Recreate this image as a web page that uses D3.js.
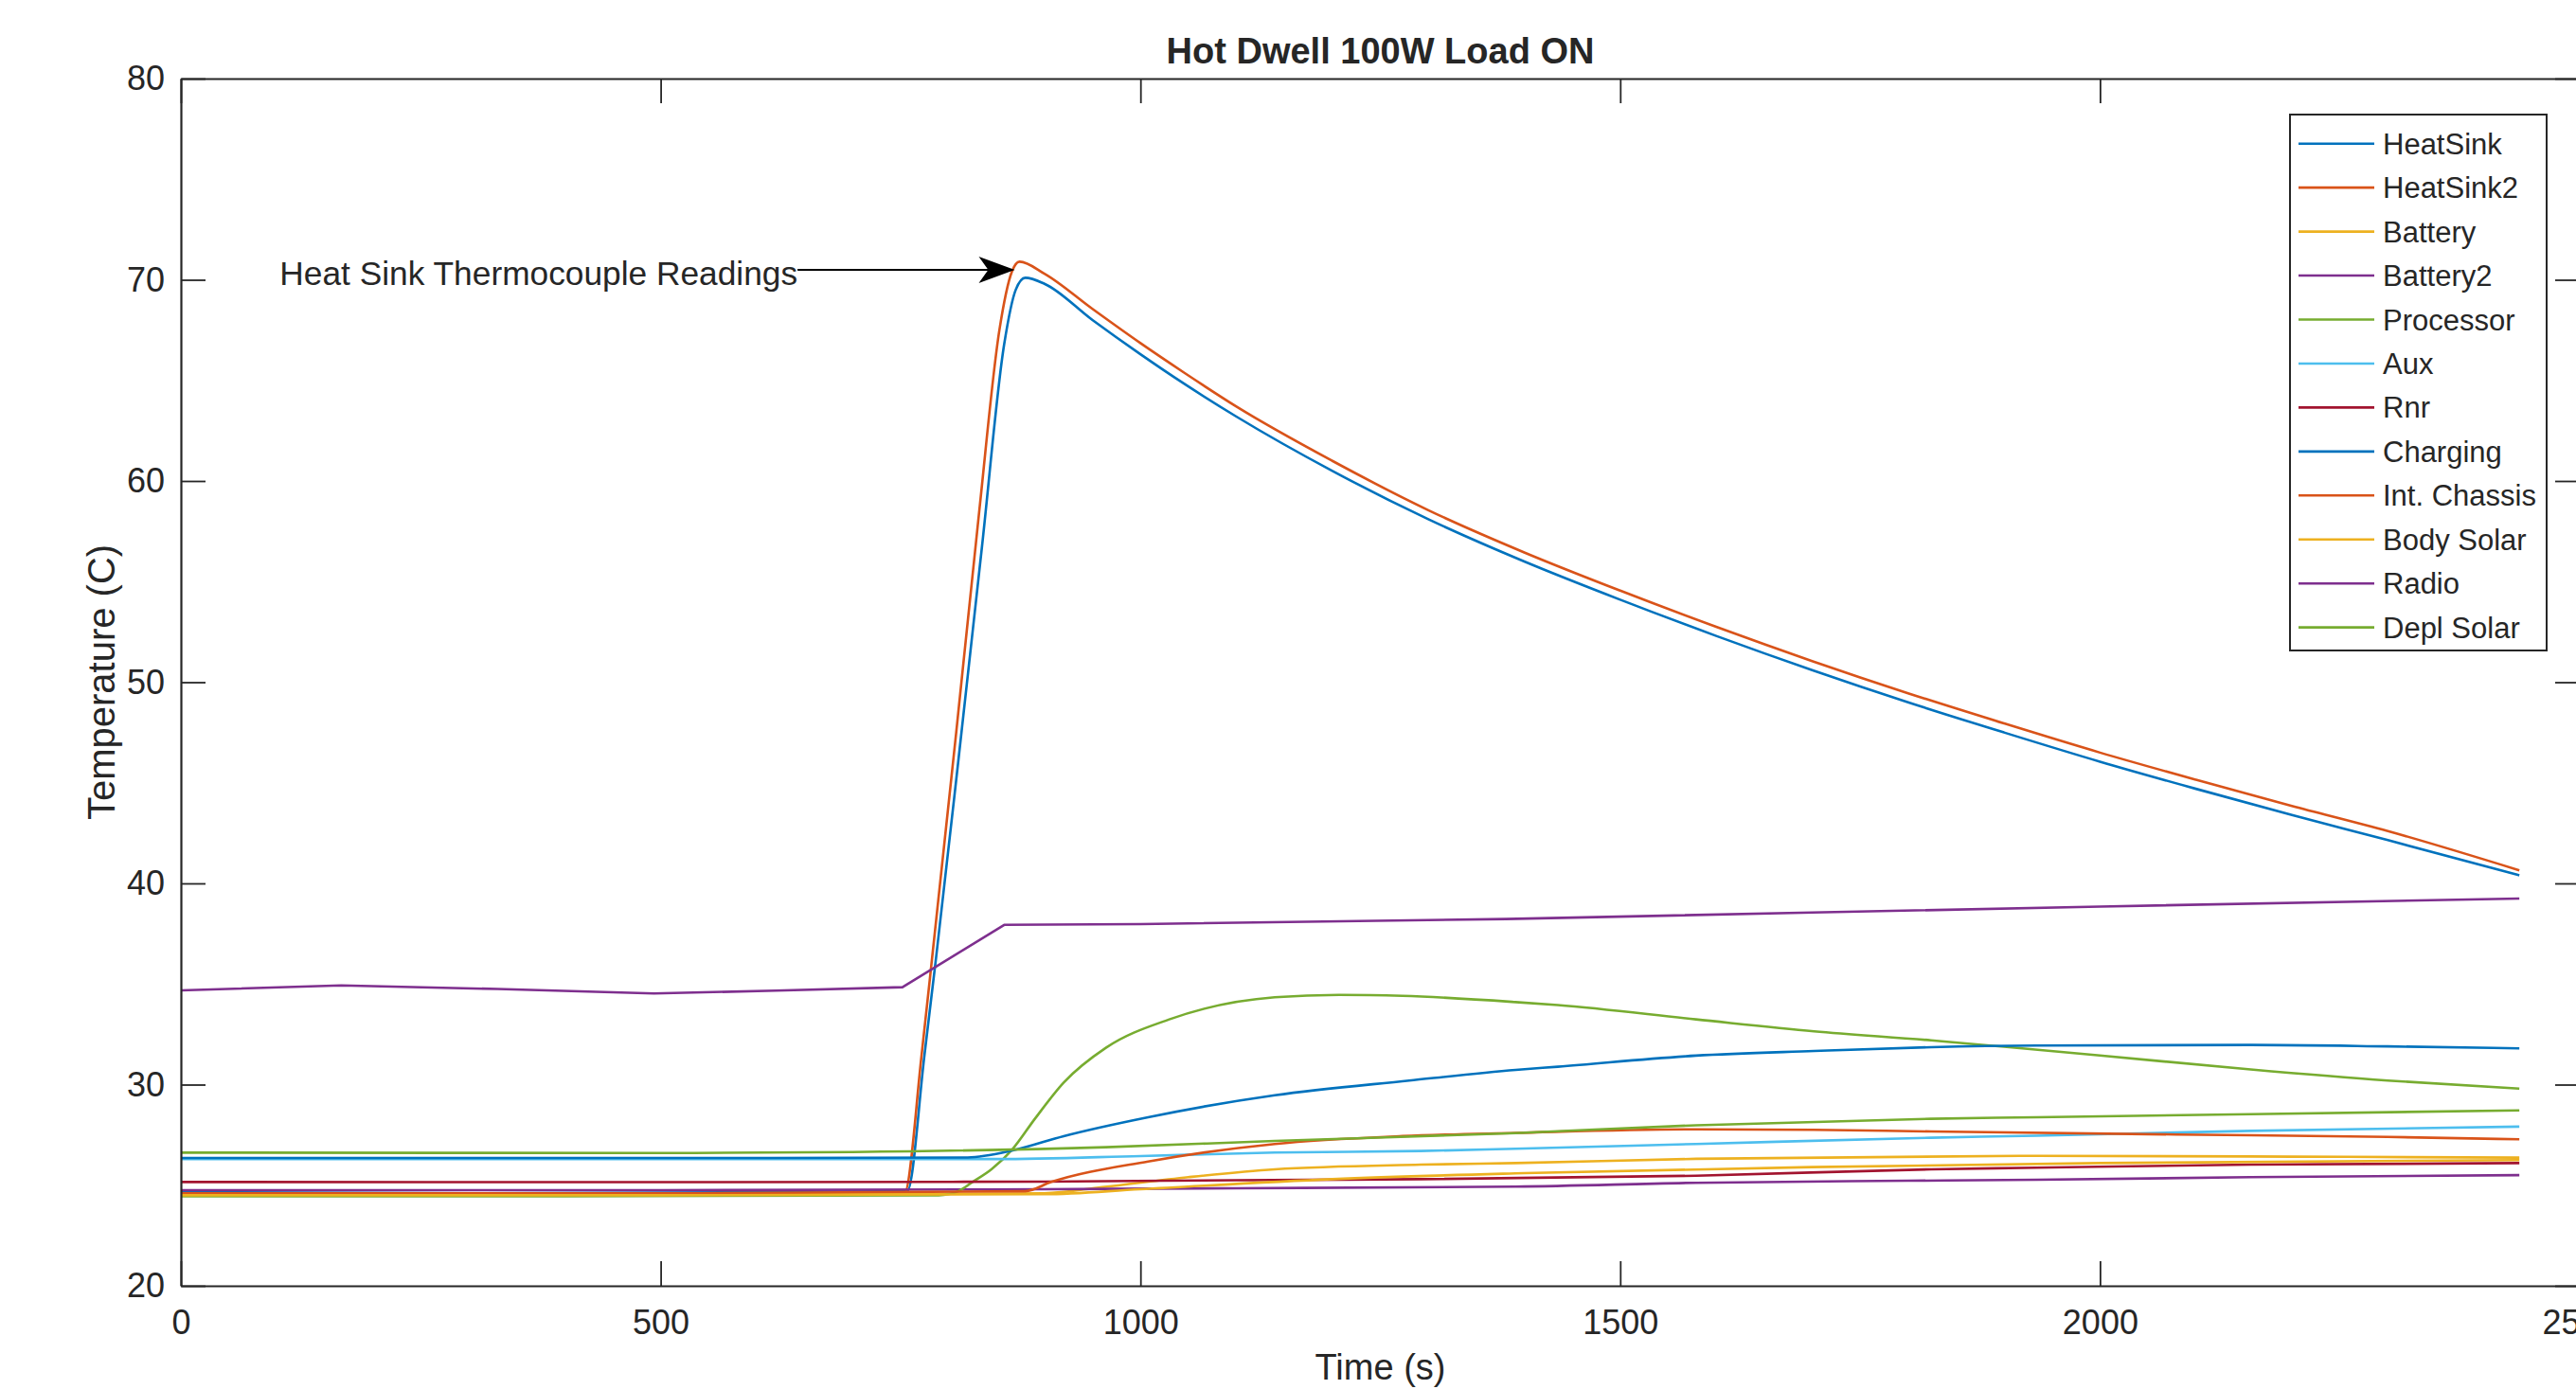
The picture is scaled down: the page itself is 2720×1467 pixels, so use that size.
<!DOCTYPE html>
<html>
<head>
<meta charset="utf-8">
<script src="https://cdn.jsdelivr.net/npm/d3@7"></script>
<style>
  html, body { margin: 0; padding: 0; background: #fff; overflow: hidden; }
  svg { display: block; }
  text { font-family: "Liberation Sans", Arial, Helvetica, sans-serif; fill: #262626; }
</style>
</head>
<body>
<svg id="chart" width="2720" height="1467"></svg>
<script>
// ---------------- data ----------------
const chartTitle = "Hot Dwell 100W Load ON";
const xLabel = "Time (s)";
const yLabel = "Temperature (C)";
const xTicks = [0, 500, 1000, 1500, 2000, 2500];
const yTicks = [20, 30, 40, 50, 60, 70, 80];
const xDomain = [0, 2500];
const yDomain = [20, 80];

const seriesNames = ["HeatSink", "HeatSink2", "Battery", "Battery2", "Processor", "Aux", "Rnr",
                     "Charging", "Int. Chassis", "Body Solar", "Radio", "Depl Solar"];
const palette = ["#0072BD", "#D95319", "#EDB120", "#7E2F8E", "#77AC30", "#4DBEEE", "#A2142F"];

// [time (s), temperature (C)]
const heatSink = [[0,24.65],[300,24.6],[600,24.65],[757,24.7],[775,31.5],[787,36.3],[810,46.0],[835,56.8],[858,66.8],[870,69.5],[880,70.1],[900,69.8],[950,68.0],[1000,66.3],[1045,64.85],[1100,63.2],[1200,60.5],[1300,58.1],[1400,56.0],[1500,54.1],[1600,52.3],[1700,50.6],[1800,49.0],[1900,47.5],[2000,46.05],[2100,44.7],[2200,43.4],[2300,42.15],[2437,40.4]];
const heatSink2 = [[0,24.5],[300,24.5],[600,24.55],[754,24.6],[772,31.5],[784,36.8],[808,47.5],[832,58.5],[853,67.5],[866,70.4],[874,70.9],[900,70.3],[950,68.55],[1000,66.85],[1045,65.4],[1100,63.7],[1200,61.0],[1300,58.55],[1400,56.45],[1500,54.55],[1600,52.75],[1700,51.05],[1800,49.45],[1900,47.95],[2000,46.5],[2100,45.15],[2200,43.85],[2300,42.6],[2437,40.65]];
const battery = [[0,24.55],[500,24.5],[900,24.6],[960,24.9],[1050,25.4],[1140,25.79],[1292,26.02],[1391,26.1],[1579,26.31],[1934,26.46],[2200,26.42],[2437,26.37]];
const battery2 = [[0,24.75],[500,24.75],[900,24.8],[1100,24.85],[1391,24.93],[1579,25.12],[1800,25.22],[1934,25.27],[2157,25.4],[2437,25.5]];
const processor = [[0,24.45],[400,24.45],[790,24.5],[810,24.7],[825,25.16],[845,25.8],[867,26.81],[890,28.3],[920,30.1],[964,31.83],[1030,33.24],[1140,34.34],[1207,34.46],[1273,34.41],[1391,34.1],[1435,33.95],[1579,33.24],[1702,32.65],[1824,32.2],[1900,31.88],[2000,31.45],[2157,30.75],[2300,30.2],[2437,29.8]];
const aux = [[0,26.3],[500,26.3],[850,26.3],[1000,26.45],[1140,26.62],[1292,26.7],[1391,26.81],[1579,27.05],[1824,27.36],[1934,27.46],[2157,27.7],[2437,27.91]];
const rnr = [[0,25.16],[500,25.15],[900,25.18],[1100,25.25],[1292,25.3],[1579,25.47],[1824,25.79],[1934,25.87],[2157,26.02],[2437,26.1]];
const charging = [[0,26.35],[500,26.35],[820,26.38],[867,26.73],[920,27.44],[1008,28.38],[1140,29.47],[1280,30.2],[1391,30.73],[1435,30.89],[1579,31.44],[1702,31.67],[1824,31.86],[1934,31.94],[2157,31.97],[2300,31.9],[2437,31.8]];
const intChassis = [[0,24.6],[500,24.6],[880,24.7],[907,25.16],[1008,26.18],[1140,27.05],[1273,27.44],[1391,27.6],[1579,27.78],[1701,27.75],[1824,27.67],[2079,27.52],[2300,27.4],[2437,27.28]];
const bodySolar = [[0,24.5],[500,24.5],[900,24.55],[1000,24.8],[1200,25.3],[1400,25.6],[1700,25.9],[2000,26.1],[2437,26.25]];
const radio = [[0,34.68],[167,34.93],[330,34.75],[493,34.53],[620,34.67],[752,34.84],[858,37.94],[1000,37.98],[1381,38.23],[1700,38.55],[2000,38.85],[2437,39.25]];
const deplSolar = [[0,26.62],[500,26.6],[700,26.65],[964,26.89],[1140,27.2],[1391,27.59],[1579,27.98],[1824,28.3],[1934,28.38],[2157,28.53],[2437,28.72]];

const seriesValues = [heatSink, heatSink2, battery, battery2, processor, aux, rnr,
                      charging, intChassis, bodySolar, radio, deplSolar];

const annotationText = "Heat Sink Thermocouple Readings";
const annotationTextTime = 103;
const annotationTipTime = 869;
const annotationValue = 70.5;

// ---------------- drawing ----------------
const svg = d3.select("#chart");
svg.append("rect").attr("width", 2720).attr("height", 1467).attr("fill", "#fff");

const plot = { left: 191, right: 2724, top: 83, bottom: 1358 };
const x = d3.scaleLinear().domain(xDomain).range([plot.left, plot.right]);
const y = d3.scaleLinear().domain(yDomain).range([plot.bottom, plot.top]);
const axisColor = "#262626";
const tickLen = 26;

// lines (sparsely sampled "Radio" trace is drawn piecewise-linear like the original)
const smoothLine = d3.line().x(d => x(d[0])).y(d => y(d[1])).curve(d3.curveMonotoneX);
const straightLine = d3.line().x(d => x(d[0])).y(d => y(d[1])).curve(d3.curveLinear);
const gLines = svg.append("g");
seriesValues.forEach((vals, i) => {
  const gen = seriesNames[i] === "Radio" ? straightLine : smoothLine;
  gLines.append("path")
    .attr("d", gen(vals))
    .attr("fill", "none")
    .attr("stroke", palette[i % palette.length])
    .attr("stroke-width", 2.6)
    .attr("stroke-linejoin", "round");
});

// axes
function styleAxis(g) {
  g.attr("color", axisColor);
  g.selectAll("path.domain").attr("stroke-width", 2.2);
  g.selectAll(".tick line").attr("stroke-width", 1.8);
  g.selectAll("text").attr("font-size", 36).attr("fill", axisColor)
    .attr("font-family", '"Liberation Sans", Arial, sans-serif');
}
svg.append("g").attr("transform", `translate(0,${plot.bottom})`)
  .call(d3.axisBottom(x).tickValues(xTicks).tickFormat(d3.format("d"))
        .tickSizeInner(-tickLen).tickSizeOuter(0).tickPadding(25))
  .call(styleAxis);
svg.append("g").attr("transform", `translate(0,${plot.top})`)
  .call(d3.axisTop(x).tickValues(xTicks).tickFormat("")
        .tickSizeInner(-tickLen).tickSizeOuter(0))
  .call(styleAxis);
svg.append("g").attr("transform", `translate(${plot.left},0)`)
  .call(d3.axisLeft(y).tickValues(yTicks).tickFormat(d3.format("d"))
        .tickSizeInner(-tickLen).tickSizeOuter(0).tickPadding(17))
  .call(styleAxis);
svg.append("g").attr("transform", `translate(${plot.right},0)`)
  .call(d3.axisRight(y).tickValues(yTicks).tickFormat("")
        .tickSizeInner(-tickLen).tickSizeOuter(0))
  .call(styleAxis);

// title and axis labels
svg.append("text").attr("x", (plot.left + plot.right) / 2).attr("y", 67)
  .attr("text-anchor", "middle").attr("font-size", 38).attr("font-weight", "bold")
  .attr("fill", "#000").text(chartTitle);
svg.append("text").attr("x", (plot.left + plot.right) / 2).attr("y", 1457)
  .attr("text-anchor", "middle").attr("font-size", 38).text(xLabel);
svg.append("text")
  .attr("transform", `translate(121,${(plot.top + plot.bottom) / 2}) rotate(-90)`)
  .attr("text-anchor", "middle").attr("font-size", 40).text(yLabel);

// annotation
const annY = y(annotationValue);
const annText = svg.append("text").attr("x", x(annotationTextTime)).attr("y", annY + 16)
  .attr("font-size", 35.3).attr("fill", "#000").text(annotationText);
const bb = annText.node().getBBox();
const textEnd = bb.x + bb.width;
const tipX = x(annotationTipTime);
svg.append("line").attr("x1", textEnd).attr("y1", annY).attr("x2", tipX - 20).attr("y2", annY)
  .attr("stroke", "#000").attr("stroke-width", 2);
svg.append("path")
  .attr("d", `M${tipX},${annY} L${tipX - 38},${annY - 14} L${tipX - 28},${annY} L${tipX - 38},${annY + 14} Z`)
  .attr("fill", "#000");

// legend
const lg = { x: 2418, y: 121, w: 271, h: 566, first: 151.7, step: 46.45 };
svg.append("rect").attr("x", lg.x).attr("y", lg.y).attr("width", lg.w).attr("height", lg.h)
  .attr("fill", "#fff").attr("stroke", axisColor).attr("stroke-width", 2);
seriesNames.forEach((name, i) => {
  const cy = lg.first + i * lg.step;
  svg.append("line").attr("x1", 2427).attr("x2", 2507).attr("y1", cy).attr("y2", cy)
    .attr("stroke", palette[i % palette.length]).attr("stroke-width", 2.6);
  svg.append("text").attr("x", 2516).attr("y", cy + 11).attr("font-size", 31)
    .attr("fill", "#000").text(name);
});
</script>
</body>
</html>
